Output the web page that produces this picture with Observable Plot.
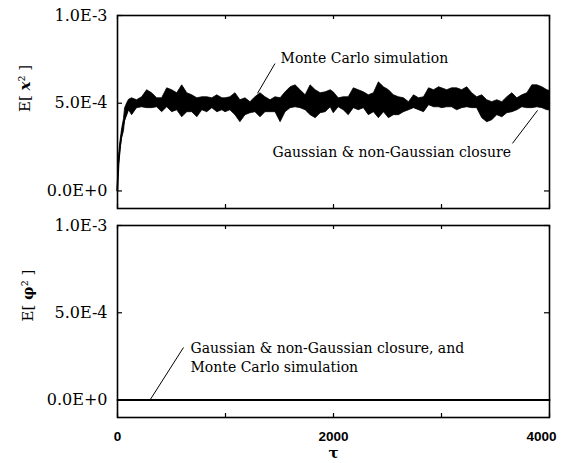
<!DOCTYPE html>
<html><head><meta charset="utf-8">
<script src="https://cdn.jsdelivr.net/npm/d3@7"></script>
<script src="https://cdn.jsdelivr.net/npm/@observablehq/plot@0.6"></script>
<style>
html,body{margin:0;padding:0;background:#fff;}
#chart{position:relative;width:578px;height:463px;overflow:hidden;}
#chart svg{position:absolute;left:0;}
</style></head><body><div id="chart"></div>
<script>
// values in units of 1e-4
const tau = [0,10,25,42,60,70,90,107,135,181,228,274,320,367,413,460,506,553,599,646,692,739,785,831,878,924,971,1000,1045,1092,1138,1185,1231,1277,1324,1370,1417,1463,1510,1556,1603,1649,1695,1742,1788,1835,1881,1927,1974,2002,2048,2095,2141,2188,2234,2281,2327,2374,2420,2467,2513,2559,2606,2652,2699,2745,2792,2838,2885,2931,2978,3005,3052,3098,3145,3191,3238,3284,3330,3377,3423,3470,3516,3563,3609,3656,3702,3748,3795,3841,3888,3934,3980,4000];
const mcUpper = [0,1.7,2.7,3.5,4.1,4.7,5.0,5.2,5.28,5.17,5.34,5.74,5.57,5.28,5.28,5.85,5.74,5.57,6.02,5.57,5.45,5.28,5.34,5.34,5.28,5.45,5.28,5.28,5.34,5.57,5.17,5.28,5.06,5.34,5.57,5.34,5.17,5.34,5.28,5.62,5.91,6.02,5.74,5.45,6.02,5.74,5.57,5.62,5.74,5.62,5.28,5.34,5.34,5.85,5.74,5.62,5.45,5.57,6.19,5.91,5.74,5.45,5.34,5.28,5.06,5.45,5.28,5.34,5.85,5.74,5.91,5.85,5.74,5.85,5.85,5.74,5.91,5.57,5.34,5.45,5.17,5.06,5.17,5.06,5.34,5.57,5.28,5.45,5.57,6.02,6.02,5.91,5.74,5.7];
const mcLower = [0,1.3,2.2,3.0,3.4,4.0,4.3,4.6,4.32,4.72,4.77,4.72,4.72,4.77,4.49,4.77,4.49,4.60,4.20,4.49,4.49,4.20,4.60,4.49,4.72,4.49,4.60,4.49,4.60,4.32,3.92,4.32,4.43,4.49,4.20,4.49,4.49,4.49,3.92,4.49,4.72,4.77,4.72,4.60,4.32,4.15,4.43,4.49,4.77,4.43,4.77,4.60,4.32,4.72,4.60,4.72,4.32,4.49,4.15,4.49,4.15,4.32,4.32,4.49,4.60,4.72,4.60,4.49,4.89,4.77,4.77,4.72,4.77,4.77,4.60,4.72,4.77,4.72,4.72,4.15,3.92,4.03,4.32,4.20,4.43,4.49,4.60,4.77,4.72,4.72,4.77,4.72,4.60,4.6];
const closureTau = [0,10,25,50,75,100,150,200,300,4000];
const closureX2 = [0,1.5,2.6,3.7,4.3,4.7,4.9,5.0,5.0,5.0];
const phiTau = [0,4000];
const phiValues = [0,0];
const xTickValues = [0,1000,2000,3000,4000];
const xTickLabels = [0,2000,4000];
const yTickValues = [0,5,10];
const topNotes = [
  {text:"Monte Carlo simulation", tau:1510, v:7.55},
  {text:"Gaussian & non-Gaussian closure", tau:1435, v:2.19}
];
const topLeaders = [
  {t1:1458, v1:7.26, t2:1296, v2:5.56},
  {t1:3657, v1:2.71, t2:3889, v2:4.59}
];
const botNotes = [{text:"Gaussian & non-Gaussian closure, and\nMonte Carlo simulation", tau:676, v:2.5}];
const botLeaders = [{t1:611, v1:3.01, t2:306, v2:0.05}];

const W = 578, ML = 117, MR = 29, FW = W - ML - MR;
const SERIF = "'DejaVu Serif', serif";
const fmtY = d => (d * 1e-4).toExponential(1).toUpperCase();

const mc = tau.map((t, i) => ({tau: t, hi: mcUpper[i], lo: mcLower[i]}));
const closure = closureTau.map((t, i) => ({tau: t, v: closureX2[i]}));
const phi = phiTau.map((t, i) => ({tau: t, v: phiValues[i]}));

function frameMarks(fh) {
  return [
    Plot.ruleX(xTickValues, {x: d => d, insetTop: fh - 4, stroke: "#000", strokeWidth: 1.2}),
    Plot.ruleX(xTickValues, {x: d => d, insetBottom: fh - 4, stroke: "#000", strokeWidth: 1.2}),
    Plot.ruleY(yTickValues, {y: d => d, insetRight: FW - 5, stroke: "#000", strokeWidth: 1.2}),
    Plot.ruleY(yTickValues, {y: d => d, insetLeft: FW - 5, stroke: "#000", strokeWidth: 1.2}),
    Plot.frame({stroke: "#000", strokeWidth: 1.6}),
    Plot.axisY({ticks: yTickValues, tickSize: 0, tickPadding: 10, tickFormat: fmtY, fontSize: 16, fontFamily: SERIF, label: null})
  ];
}

const topH = 215, topMT = 15, topMB = 7;
const topPlot = Plot.plot({
  width: W, height: topH, marginTop: topMT, marginBottom: topMB, marginLeft: ML, marginRight: MR,
  x: {domain: [0, 4000], axis: null},
  y: {domain: [-1, 10]},
  style: {fontFamily: SERIF, background: "white", color: "#000"},
  marks: [
    Plot.lineY(closure, {x: "tau", y: "v", stroke: "#000", strokeWidth: 1.5}),
    Plot.areaY(mc, {x: "tau", y1: "lo", y2: "hi", fill: "#000", stroke: "#000", strokeWidth: 0.8}),
    ...frameMarks(topH - topMT - topMB),
    Plot.text(["E[ x² ]"], {frameAnchor: "left", dx: -92, rotate: -90, fontSize: 15, fontFamily: SERIF}),
    Plot.link(topLeaders, {x1: "t1", y1: "v1", x2: "t2", y2: "v2", stroke: "#000", strokeWidth: 1}),
    Plot.text(topNotes, {x: "tau", y: "v", text: "text", textAnchor: "start", fontSize: 14, fontFamily: SERIF})
  ]
});

const botH = 248, botMT = 10, botMB = 46;
const botPlot = Plot.plot({
  width: W, height: botH, marginTop: botMT, marginBottom: botMB, marginLeft: ML, marginRight: MR,
  x: {domain: [0, 4000]},
  y: {domain: [-1, 10]},
  style: {fontFamily: SERIF, background: "white", color: "#000"},
  marks: [
    Plot.lineY(phi, {x: "tau", y: "v", stroke: "#000", strokeWidth: 2}),
    ...frameMarks(botH - botMT - botMB),
    Plot.axisX({ticks: xTickLabels.filter(d => d < 4000), tickSize: 0, tickPadding: 14, tickFormat: d => String(d), fontSize: 13.5, fontWeight: "bold", fontFamily: "'Liberation Sans', Arial, sans-serif", label: null}),
    Plot.axisX({ticks: xTickLabels.filter(d => d >= 4000), tickSize: 0, tickPadding: 14, dx: -8, tickFormat: d => String(d), fontSize: 13.5, fontWeight: "bold", fontFamily: "'Liberation Sans', Arial, sans-serif", label: null}),
    Plot.text(["τ"], {frameAnchor: "bottom", dy: 40, fontSize: 15, fontWeight: "bold", fontFamily: SERIF}),
    Plot.text(["E[ φ² ]"], {frameAnchor: "left", dx: -89, rotate: -90, fontSize: 15, fontFamily: SERIF}),
    Plot.link(botLeaders, {x1: "t1", y1: "v1", x2: "t2", y2: "v2", stroke: "#000", strokeWidth: 1}),
    Plot.text(botNotes, {x: "tau", y: "v", text: "text", textAnchor: "start", lineHeight: 1.4, fontSize: 14, fontFamily: SERIF})
  ]
});

topPlot.style.top = "0px";
botPlot.style.top = topH + "px";
const chart = document.getElementById("chart");
chart.appendChild(topPlot);
chart.appendChild(botPlot);

// italic x and bold phi in axis titles
for (const t of chart.querySelectorAll("text")) {
  if (t.textContent === "E[ x² ]") {
    t.innerHTML = 'E[ <tspan font-style="italic" font-weight="bold">x</tspan>² ]';
  } else if (t.textContent === "E[ φ² ]") {
    t.innerHTML = 'E[ <tspan font-weight="bold">φ</tspan>² ]';
  }
}
</script></body></html>
